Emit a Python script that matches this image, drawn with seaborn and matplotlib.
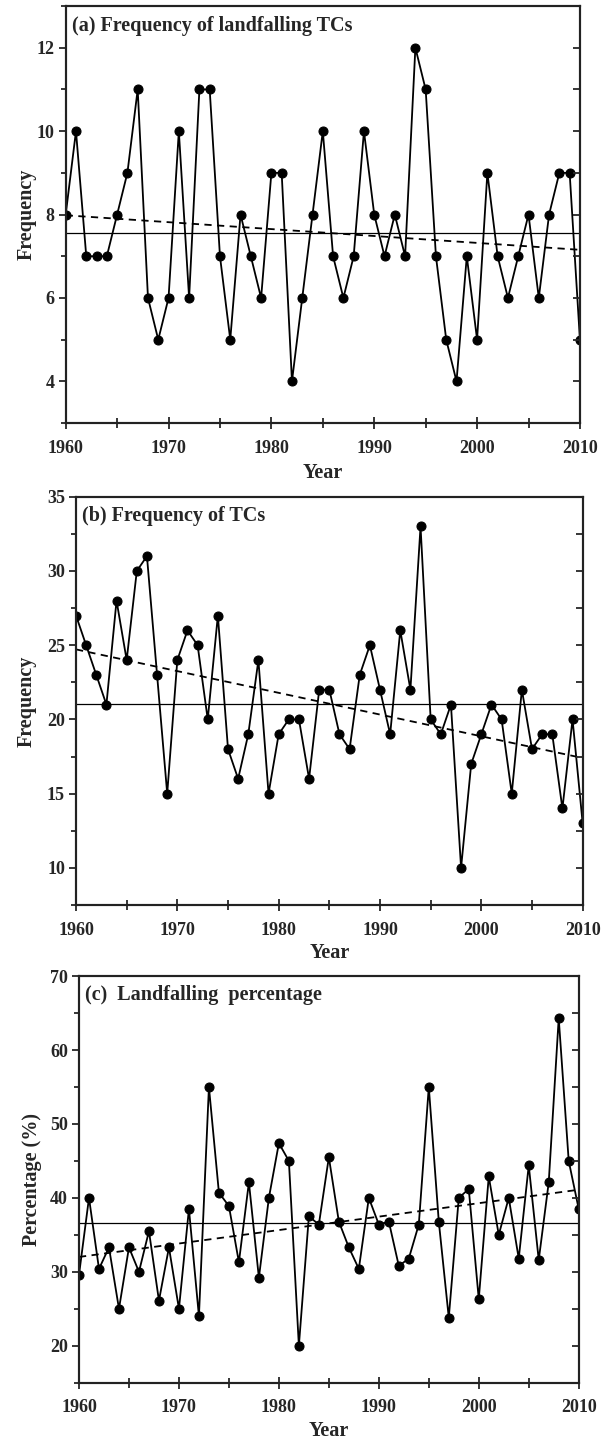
import numpy as np
import pandas as pd
import matplotlib.pyplot as plt
from matplotlib.ticker import MultipleLocator
import seaborn as sns

# --- data (1960-2010) ---
years = list(range(1960, 2011))

landfalling = [8, 10, 7, 7, 7, 8, 9, 11, 6, 5,
               6, 10, 6, 11, 11, 7, 5, 8, 7, 6,
               9, 9, 4, 6, 8, 10, 7, 6, 7, 10,
               8, 7, 8, 7, 12, 11, 7, 5, 4, 7,
               5, 9, 7, 6, 7, 8, 6, 8, 9, 9,
               5]

total_tcs = [27, 25, 23, 21, 28, 24, 30, 31, 23, 15,
             24, 26, 25, 20, 27, 18, 16, 19, 24, 15,
             19, 20, 20, 16, 22, 22, 19, 18, 23, 25,
             22, 19, 26, 22, 33, 20, 19, 21, 10, 17,
             19, 21, 20, 15, 22, 18, 19, 19, 14, 20,
             13]

landfall_pct = [29.6, 40.0, 30.4, 33.3, 25.0, 33.3, 30.0, 35.5, 26.1, 33.3,
                25.0, 38.5, 24.0, 55.0, 40.7, 38.9, 31.3, 42.1, 29.2, 40.0,
                47.4, 45.0, 20.0, 37.5, 36.4, 45.5, 36.8, 33.3, 30.4, 40.0,
                36.4, 36.8, 30.8, 31.8, 36.4, 55.0, 36.8, 23.8, 40.0, 41.2,
                26.3, 42.9, 35.0, 40.0, 31.8, 44.4, 31.6, 42.1, 64.3, 45.0,
                38.5]

titles = ["(a) Frequency of landfalling TCs",
          "(b) Frequency of TCs",
          "(c)  Landfalling  percentage"]
ylabels = ["Frequency", "Frequency", "Percentage (%)"]

sns.set_style("ticks")
plt.rcParams['font.family'] = ['Liberation Serif', 'DejaVu Serif']
plt.rcParams['font.weight'] = 'bold'
plt.rcParams['axes.linewidth'] = 1.5

fig = plt.figure(figsize=(6.1, 14.39), dpi=100)

# axes boxes [left, bottom, width, height], ylims, tick steps, label positions
boxes = [[0.1077, 0.706, 0.843, 0.2898],
         [0.1246, 0.3711, 0.8306, 0.2837],
         [0.1295, 0.0391, 0.8192, 0.2826]]
ylims = [(3, 13), (7.5, 35), (15, 70)]
steps = [(2, 1), (5, 2.5), (10, 5)]
ylab_x = [-0.0568, -0.078, -0.075]
xlab_y = [-0.096, -0.093, -0.095]
series = [landfalling, total_tcs, landfall_pct]

for i, vals in enumerate(series):
    ax = fig.add_axes(boxes[i])
    major, minor = steps[i]
    df = pd.DataFrame({'Year': years, 'Value': vals})

    sns.lineplot(data=df, x='Year', y='Value', ax=ax, color='black', lw=1.3,
                 marker='o', markersize=6.5, markeredgecolor='black')
    ax.axhline(np.mean(vals), color='black', lw=0.9)
    sns.regplot(data=df, x='Year', y='Value', ax=ax, scatter=False, ci=None, truncate=True,
                line_kws=dict(color='black', lw=1.3, ls=(0, (4, 3))))

    ax.set_xlim(1960, 2010)
    ax.set_ylim(*ylims[i])
    ax.xaxis.set_major_locator(MultipleLocator(10))
    ax.xaxis.set_minor_locator(MultipleLocator(5))
    ax.yaxis.set_major_locator(MultipleLocator(major))
    ax.yaxis.set_minor_locator(MultipleLocator(minor))
    ax.tick_params(axis='x', which='major', direction='inout', length=8, width=1.3, labelsize=13, pad=8)
    ax.tick_params(axis='x', which='minor', direction='inout', length=7, width=1.3)
    ax.tick_params(axis='y', which='major', direction='out', length=5, width=1.3, labelsize=13, pad=3)
    ax.tick_params(axis='y', which='minor', direction='out', length=3.5, width=1.3)
    for lab in ax.get_xticklabels() + ax.get_yticklabels():
        lab.set_fontweight('bold')

    # right-hand inward ticks
    twin = ax.twinx()
    twin.set_ylim(*ylims[i])
    twin.yaxis.set_major_locator(MultipleLocator(major))
    twin.yaxis.set_minor_locator(MultipleLocator(minor))
    twin.tick_params(axis='y', which='both', direction='in', length=5, width=1.3, labelright=False)
    twin.grid(False)

    for sp in list(ax.spines.values()) + list(twin.spines.values()):
        sp.set_visible(True)
        sp.set_linewidth(1.5)
        sp.set_color('#222222')

    ax.set_xlabel('Year', fontsize=14.5, fontweight='bold')
    ax.set_ylabel(ylabels[i], fontsize=14.5, fontweight='bold')
    ax.xaxis.set_label_coords(0.5, xlab_y[i])
    ax.yaxis.set_label_coords(ylab_x[i], 0.5)
    ax.text(0.012, 0.953, titles[i], transform=ax.transAxes, fontsize=14.5, fontweight='bold',
            ha='left', va='center')

fig.savefig('out.png', dpi=100)
